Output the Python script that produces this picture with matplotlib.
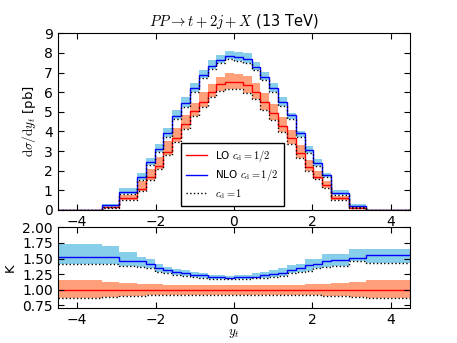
import matplotlib
matplotlib.use('Agg')
import matplotlib.pyplot as plt
import numpy as np

# bin edges in y_t
edges = [-4.5, -3.375, -2.925, -2.475, -2.25, -2.025, -1.8, -1.575, -1.35, -1.125,
         -0.9, -0.675, -0.45, -0.225, 0.0, 0.225, 0.45, 0.675, 0.9, 1.125, 1.35,
         1.575, 1.8, 2.025, 2.25, 2.475, 2.925, 3.375, 4.5]

# d sigma / d y_t [pb]
nlo = [0, 0.25, 0.93, 1.66, 2.42, 3.11, 3.91, 4.80, 5.43, 6.23, 6.88, 7.35, 7.64, 7.86,
       7.81, 7.68, 7.30, 6.79, 6.20, 5.52, 4.84, 3.91, 3.06, 2.38, 1.79, 0.88, 0.22, 0]
nlo_up = [0, 0.31, 1.10, 1.87, 2.63, 3.35, 4.17, 5.10, 5.73, 6.46, 7.13, 7.64, 7.90, 8.10,
          8.07, 7.98, 7.56, 7.05, 6.45, 5.77, 4.92, 4.02, 3.27, 2.58, 1.90, 1.02, 0.31, 0]
nlo_cd1 = [0, 0.17, 0.80, 1.53, 2.29, 2.97, 3.74, 4.63, 5.26, 6.03, 6.71, 7.18, 7.47, 7.69,
           7.60, 7.47, 7.13, 6.62, 6.03, 5.30, 4.62, 3.74, 2.90, 2.26, 1.67, 0.77, 0.14, 0]
lo = [0, 0.15, 0.59, 1.07, 1.70, 2.26, 2.97, 3.68, 4.36, 5.04, 5.52, 6.00, 6.40, 6.54,
      6.50, 6.35, 6.00, 5.50, 4.95, 4.30, 3.65, 2.92, 2.20, 1.70, 1.25, 0.60, 0.12, 0]
lo_up = [0, 0.19, 0.78, 1.45, 2.10, 2.68, 3.49, 4.17, 4.85, 5.43, 6.03, 6.40, 6.79, 6.96,
         6.95, 6.80, 6.45, 5.95, 5.40, 4.75, 4.05, 3.30, 2.55, 2.00, 1.45, 0.72, 0.16, 0]
lo_cd1 = [0, 0.12, 0.51, 0.97, 1.53, 2.10, 2.80, 3.45, 4.13, 4.80, 5.26, 5.77, 6.06, 6.15,
          6.15, 5.95, 5.65, 5.10, 4.60, 3.95, 3.35, 2.65, 2.00, 1.55, 1.13, 0.53, 0.09, 0]

# K factor panel
k_nlo = [1.527, 1.52, 1.458, 1.458, 1.405, 1.35, 1.32, 1.29, 1.26, 1.24, 1.23, 1.21, 1.20, 1.19,
         1.20, 1.20, 1.21, 1.23, 1.25, 1.27, 1.31, 1.35, 1.39, 1.405, 1.46, 1.47, 1.51, 1.55]
k_nlo_up = [1.727, 1.70, 1.598, 1.527, 1.50, 1.42, 1.37, 1.34, 1.31, 1.29, 1.27, 1.24, 1.23, 1.22,
            1.235, 1.235, 1.26, 1.29, 1.31, 1.35, 1.39, 1.42, 1.50, 1.50, 1.58, 1.58, 1.65, 1.65]
k_nlo_cd1 = [1.42, 1.41, 1.38, 1.37, 1.35, 1.29, 1.27, 1.23, 1.22, 1.20, 1.19, 1.17, 1.17, 1.17,
             1.17, 1.17, 1.18, 1.19, 1.21, 1.22, 1.26, 1.29, 1.30, 1.35, 1.37, 1.38, 1.46, 1.43]
k_lo = [1.0] * 28
k_lo_up = [1.153, 1.126, 1.10, 1.09, 1.09, 1.085, 1.08, 1.08, 1.075, 1.075, 1.07, 1.07, 1.07, 1.07,
           1.07, 1.07, 1.07, 1.07, 1.075, 1.075, 1.08, 1.08, 1.085, 1.09, 1.09, 1.10, 1.13, 1.153]
k_lo_cd1 = [0.868, 0.88, 0.90, 0.905, 0.91, 0.91, 0.915, 0.915, 0.92, 0.92, 0.92, 0.92, 0.92, 0.92,
            0.92, 0.92, 0.92, 0.92, 0.92, 0.915, 0.915, 0.91, 0.91, 0.91, 0.905, 0.90, 0.88, 0.868]

plt.rcParams['mathtext.fontset'] = 'cm'
plt.rcParams['font.size'] = 9.5
plt.rcParams['xtick.labelsize'] = 10
plt.rcParams['ytick.labelsize'] = 10
plt.rcParams['xtick.direction'] = 'in'
plt.rcParams['ytick.direction'] = 'in'
plt.rcParams['xtick.top'] = True
plt.rcParams['ytick.right'] = True
plt.rcParams['xtick.major.size'] = 4
plt.rcParams['ytick.major.size'] = 4

fig = plt.figure(figsize=(4.57, 3.43), dpi=100)
ax = fig.add_axes([0.126, 0.388, 0.772, 0.515])
ax2 = fig.add_axes([0.126, 0.101, 0.772, 0.236])

lo_col = '#ffa07a'
nlo_col = '#87ceeb'

# upper panel
ax.stairs(lo_up, edges, baseline=lo_cd1, fill=True, color=lo_col, lw=0)
ax.stairs(nlo_up, edges, baseline=nlo_cd1, fill=True, color=nlo_col, lw=0)
ax.stairs(lo, edges, baseline=None, color='red', lw=1, label=r'LO $c_\mathrm{d}=1/2$')
ax.stairs(nlo, edges, baseline=None, color='blue', lw=1, label=r'NLO $c_\mathrm{d}=1/2$')
ax.stairs(lo_cd1, edges, baseline=None, color='black', lw=1, ls=':', label=r'$c_\mathrm{d}=1$')
ax.stairs(nlo_cd1, edges, baseline=None, color='black', lw=1, ls=':')

ax.set_xlim(-4.5, 4.5)
ax.set_ylim(0, 9)
ax.set_yticks(np.arange(0, 10, 1))
ax.set_xticks([-4, -2, 0, 2, 4])
ax.set_ylabel(r'$\mathrm{d}\sigma/\mathrm{d}y_t$ [pb]')
ax.set_title(r'$PP\rightarrow t+2j+X$ (13 TeV)', fontsize=10.5, pad=5)
leg = ax.legend(loc='lower center', bbox_to_anchor=(0.495, 0.01), fontsize=7.5,
                fancybox=False, framealpha=1, edgecolor='black', borderaxespad=0.2,
                labelspacing=0.35, borderpad=0.5)
leg.get_frame().set_linewidth(1)

# lower panel
ax2.stairs(k_lo_up, edges, baseline=k_lo_cd1, fill=True, color=lo_col, lw=0)
ax2.stairs(k_nlo_up, edges, baseline=k_nlo_cd1, fill=True, color=nlo_col, lw=0)
ax2.stairs(k_lo, edges, baseline=None, color='red', lw=1)
ax2.stairs(k_nlo, edges, baseline=None, color='blue', lw=1)
ax2.stairs(k_lo_cd1, edges, baseline=None, color='black', lw=1, ls=':')
ax2.stairs(k_nlo_cd1, edges, baseline=None, color='black', lw=1, ls=':')

ax2.set_xlim(-4.5, 4.5)
ax2.set_ylim(0.7, 2.0)
ax2.set_yticks([0.75, 1.0, 1.25, 1.5, 1.75, 2.0])
ax2.set_yticklabels(['0.75', '1.00', '1.25', '1.50', '1.75', '2.00'])
ax2.set_xticks([-4, -2, 0, 2, 4])
ax2.set_ylabel('K')
ax2.set_xlabel(r'$y_t$', labelpad=0)

fig.savefig('out.png', dpi=100)
